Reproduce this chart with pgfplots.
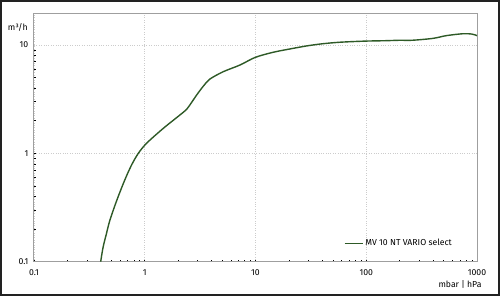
\documentclass[border=0pt]{standalone}
\usepackage{fontspec}
\setmainfont{Fira Sans}
\usepackage{pgfplots}
\pgfplotsset{compat=1.18}
\definecolor{curve}{HTML}{2E5A27}
\definecolor{frame}{HTML}{222222}
\begin{document}
\fontsize{8.7}{10}\selectfont
\begin{tikzpicture}
\begin{loglogaxis}[
  scale only axis, width=443bp, height=248.4bp,
  xmin=0.1, xmax=1000, ymin=0.1, ymax=19.6,
  axis line style={draw=gray!75, line width=1bp},
  xtick={0.1,1,10,100,1000}, xticklabels={0.1,1,10,100,1000},
  ytick={0.1,1,10}, yticklabels={0.1,1,10},
  xtick pos=lower, ytick pos=left,
  major tick length=0pt, minor tick length=2bp,
  tick align=inside,
  minor tick style={black, line width=0.6bp},
  grid=major, major grid style={gray!40, dotted, line width=0.7bp},
  /pgf/number format/assume math mode=true,
  xticklabel style={anchor=north, inner sep=0pt, yshift=-8bp},
  yticklabel style={anchor=east, inner sep=0pt, xshift=-5.5bp},
  legend style={draw=none, fill=none, at={(1,0)}, anchor=east, xshift=-23bp, yshift=18.4bp, inner sep=0pt, font=\fontsize{8.7}{10}\selectfont},
  legend cell align=left,
  legend image code/.code={\draw[#1] (0bp,0bp) -- (18bp,0bp);},
  clip=false,
]
\addplot[curve, line width=1.4bp, smooth, tension=0.5] coordinates {
(0.4,0.1) (0.42,0.135) (0.45,0.18) (0.485,0.242) (0.56,0.37) (0.66,0.567)
(0.76,0.78) (0.875,1.0) (1.04,1.24) (1.47,1.70) (2.08,2.26) (2.39,2.55)
(2.65,2.95) (2.94,3.45) (3.4,4.2) (3.88,4.85) (5.12,5.67) (7.24,6.53)
(10,7.7) (14.5,8.57) (20.5,9.19) (29,9.8) (40,10.25) (58,10.6) (97,10.85)
(150,10.95) (200,11.05) (260,11.05) (400,11.5) (530,12.2) (750,12.7)
(900,12.6) (1000,12.2)
};
\addlegendentry{MV 10 NT VARIO select}
\node[anchor=east, inner sep=0pt] at ([xshift=-6bp, yshift=-13.7bp]rel axis cs:0,1) {m³/h};
\node[anchor=east, inner sep=0pt] at ([xshift=4.7bp, yshift=-22.3bp]rel axis cs:1,0) {mbar | hPa};
\path[use as bounding box] ([xshift=-34bp, yshift=-34.3bp]rel axis cs:0,0) rectangle ([xshift=23bp, yshift=13.3bp]rel axis cs:1,1);
\draw[frame, line width=2bp] ([xshift=-33bp, yshift=-33.3bp]rel axis cs:0,0) rectangle ([xshift=22bp, yshift=12.3bp]rel axis cs:1,1);
\end{loglogaxis}
\end{tikzpicture}
\end{document}
